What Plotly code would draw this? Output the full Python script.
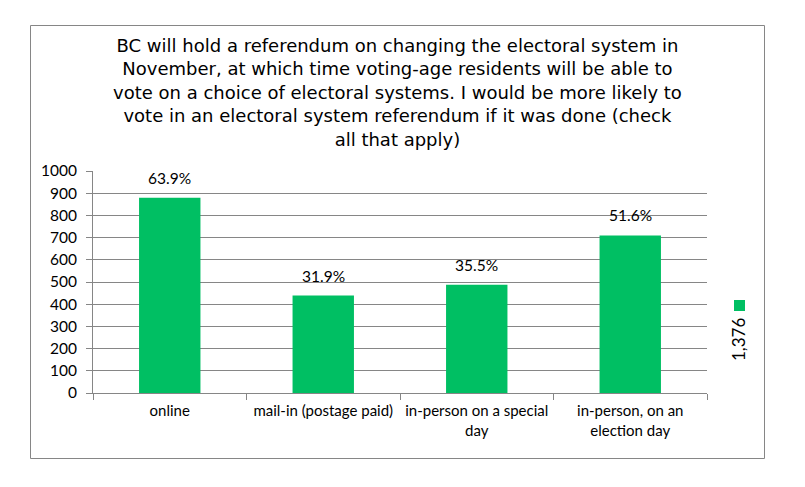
import plotly.graph_objects as go

categories = ["online", "mail-in (postage paid)", "in-person on a special<br>day", "in-person, on an<br>election day"]
counts = [879, 439, 488, 710]
pct_labels = ["63.9%", "31.9%", "35.5%", "51.6%"]
total_label = "1,376"
yticks = [0, 100, 200, 300, 400, 500, 600, 700, 800, 900, 1000]
title_text = ("BC will hold a referendum on changing the electoral system in<br>"
              "November, at which time voting-age residents will be able to<br>"
              "vote on a choice of electoral systems. I would be more likely to<br>"
              "vote in an electoral system referendum if it was done (check<br>"
              "all that apply)")

GREEN = "#00BF63"
W, H = 805, 487
L, R, T, B = 93, 707, 171, 393
pw, ph = R - L, B - T
LABEL_FONT = "Lato, sans-serif"

def px(x):
    return (x - L) / pw

def py(y):
    return (B - y) / ph

fig = go.Figure()
fig.add_trace(go.Bar(
    x=categories, y=counts,
    marker=dict(color=GREEN, line=dict(width=0)),
    cliponaxis=False, width=0.4, showlegend=False,
))

annotations = [
    dict(text=t, x=c, y=v, xref="x", yref="y", xanchor="center", yanchor="bottom",
         yshift=9, showarrow=False, font=dict(family=LABEL_FONT, size=15.5, color="#000000"))
    for c, v, t in zip(categories, counts, pct_labels)
]
annotations += [
    dict(text=title_text, xref="paper", yref="paper", x=px(397), y=py(92), xanchor="center", yanchor="middle",
         showarrow=False, font=dict(family="DejaVu Sans", size=18, color="#000000")),
    dict(text=total_label, xref="paper", yref="paper", x=px(738), y=py(340), xanchor="center", yanchor="middle",
         showarrow=False, textangle=-90,
         font=dict(family=LABEL_FONT, size=17, color="#000000")),
]

fig.update_layout(
    width=W, height=H,
    margin=dict(l=L, r=W - R, t=T, b=H - B, pad=0),
    paper_bgcolor="white", plot_bgcolor="white",
    xaxis=dict(
        type="category", showgrid=False, showline=True, linecolor="#868686", linewidth=1,
        ticks="outside", tickson="boundaries", ticklen=6, tickcolor="#868686",
        tickfont=dict(family=LABEL_FONT, size=15, color="#000000"),
        ticklabelstandoff=4,
        range=[-0.5, 3.5],
    ),
    yaxis=dict(
        range=[0, 1000], tickvals=yticks, showgrid=True, gridcolor="#868686", gridwidth=1,
        showline=True, linecolor="#868686", linewidth=1, ticks="outside", ticklen=6,
        tickcolor="#868686", zeroline=False, ticklabelstandoff=6,
        tickfont=dict(family=LABEL_FONT, size=15.5, color="#000000"),
    ),
    shapes=[
        dict(type="rect", xref="paper", yref="paper", x0=px(30.5), x1=px(764.5), y0=py(458.5), y1=py(25.5),
             line=dict(color="#868686", width=1), fillcolor="rgba(0,0,0,0)", layer="below"),
        dict(type="rect", xref="paper", yref="paper", x0=px(734), x1=px(745), y0=py(311), y1=py(300),
             line=dict(width=0), fillcolor=GREEN),
    ],
    annotations=annotations,
)

fig.write_html("out.html")
